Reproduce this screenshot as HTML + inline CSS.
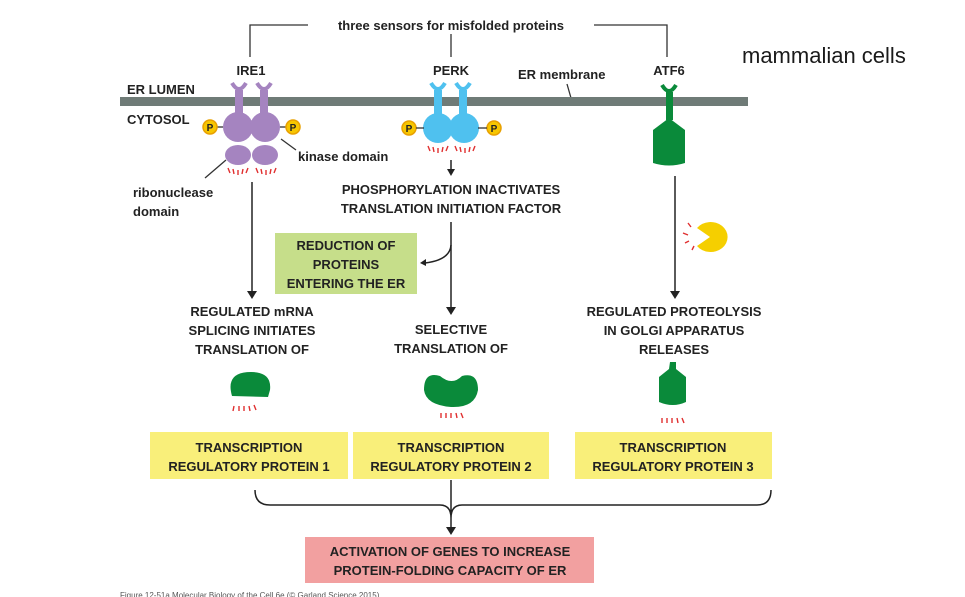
<!DOCTYPE html>
<html><head><meta charset="utf-8"><style>
html,body{margin:0;padding:0;background:#fff;}
svg{display:block;}
text{font-family:"Liberation Sans",sans-serif;font-weight:bold;fill:#222;font-size:13px;}
.c{text-anchor:middle;}
</style></head><body>
<svg width="965" height="597" viewBox="0 0 965 597">
<g stroke="#333" stroke-width="1.3" fill="none">
<path d="M250 57V25H308M594 25H667V57M451 34V57"/>
<path d="M567 84L571 98"/>
</g>
<text x="451" y="30" class="c" style="font-size:13px">three sensors for misfolded proteins</text>
<text x="742" y="63" style="font-weight:normal;font-size:22px;fill:#1a1a1a">mammalian cells</text>
<text x="251" y="75" class="c">IRE1</text>
<text x="451" y="75" class="c">PERK</text>
<text x="669" y="75" class="c">ATF6</text>
<text x="518" y="79">ER membrane</text>
<text x="127" y="94">ER LUMEN</text>
<text x="127" y="124">CYTOSOL</text>
<rect x="120" y="97" width="628" height="9" fill="#6f7b77"/>
<g fill="#a584c0">
<path d="M232 83q7 12 14 0 M257 83q7 12 14 0" stroke="#a584c0" stroke-width="4" fill="none"/>
<rect x="235" y="90" width="8" height="25"/><rect x="260" y="90" width="8" height="25"/>
<circle cx="238" cy="127" r="15"/><circle cx="265" cy="127" r="15"/>
<ellipse cx="238" cy="155" rx="13" ry="10"/><ellipse cx="265" cy="155" rx="13" ry="10"/>
</g>
<g stroke="#333" stroke-width="1.3"><line x1="216" y1="127" x2="223" y2="127"/><line x1="280" y1="127" x2="287" y2="127"/>
<line x1="281" y1="139" x2="296" y2="150"/><line x1="226" y1="160" x2="205" y2="178"/></g>
<g stroke="#e03030" stroke-width="1.4"><path d="M228 168l2 5M233 169l1 5M238 170l0 5M243 169l-1 5M248 168l-2 5M256 168l2 5M261 169l1 5M266 170l0 5M271 169l-1 5M276 168l-2 5"/></g>
<g fill="#f7c600" stroke="#e8a000" stroke-width="1.5"><circle cx="210" cy="127" r="7"/><circle cx="293" cy="127" r="7"/><circle cx="409" cy="128" r="7"/><circle cx="494" cy="128" r="7"/></g>
<text x="210" y="131" class="c" style="font-size:10px">P</text><text x="293" y="131" class="c" style="font-size:10px">P</text><text x="409" y="132" class="c" style="font-size:10px">P</text><text x="494" y="132" class="c" style="font-size:10px">P</text>
<text x="298" y="161">kinase domain</text>
<text x="133" y="197">ribonuclease</text>
<text x="133" y="216">domain</text>
<g fill="#4fc1ef">
<path d="M431 83q7 12 14 0 M456 83q7 12 14 0" stroke="#4fc1ef" stroke-width="4" fill="none"/>
<rect x="434" y="90" width="8" height="25"/><rect x="459" y="90" width="8" height="25"/>
<circle cx="438" cy="128" r="15"/><circle cx="464" cy="128" r="15"/>
</g>
<g stroke="#333" stroke-width="1.3"><line x1="416" y1="128" x2="424" y2="128"/><line x1="478" y1="128" x2="487" y2="128"/></g>
<g stroke="#e03030" stroke-width="1.4"><path d="M428 146l2 5M433 147l1 5M438 148l0 5M443 147l-1 5M448 146l-2 5M455 146l2 5M460 147l1 5M465 148l0 5M470 147l-1 5M475 146l-2 5"/></g>
<path d="M662 85q7 12 14 0" stroke="#0a8a3a" stroke-width="4" fill="none"/>
<rect x="666" y="92" width="7" height="28" fill="#0a8a3a"/>
<path d="M669 118L685 130V163Q669 168 653 163V130Z" fill="#0a8a3a"/>
<g stroke="#222" stroke-width="1.5" fill="none">
<line x1="252" y1="182" x2="252" y2="292"/>
<line x1="451" y1="160" x2="451" y2="170"/>
<line x1="451" y1="222" x2="451" y2="308"/>
<path d="M451 245Q450 260 425 263"/>
<line x1="675" y1="176" x2="675" y2="292"/>
<path d="M255 490Q255 505 270 505H440Q451 505 451 518M451 480V518M451 518Q451 505 462 505H757Q771 505 771 490"/>
<line x1="451" y1="518" x2="451" y2="528"/>
</g>
<g fill="#222">
<path d="M247 291h10l-5 8z"/><path d="M447 169h8l-4 7z"/><path d="M446 307h10l-5 8z"/>
<path d="M426 259l-6 4 6 3z"/><path d="M670 291h10l-5 8z"/><path d="M446 527h10l-5 8z"/>
</g>
<text x="451" y="194" class="c">PHOSPHORYLATION INACTIVATES</text>
<text x="451" y="213" class="c">TRANSLATION INITIATION FACTOR</text>
<rect x="275" y="233" width="142" height="61" fill="#c6de8a"/>
<text x="346" y="250" class="c">REDUCTION OF</text>
<text x="346" y="269" class="c">PROTEINS</text>
<text x="346" y="288" class="c">ENTERING THE ER</text>
<path d="M710 237L697 228A17 15 0 1 1 697 246Z" fill="#f5cf00"/>
<g stroke="#e03030" stroke-width="1.4"><path d="M688 223l3 4M683 233l5 2M685 243l4-2M692 250l2-4"/></g>
<text x="252" y="316" class="c">REGULATED mRNA</text>
<text x="252" y="335" class="c">SPLICING INITIATES</text>
<text x="252" y="354" class="c">TRANSLATION OF</text>
<text x="451" y="334" class="c">SELECTIVE</text>
<text x="451" y="353" class="c">TRANSLATION OF</text>
<text x="674" y="316" class="c">REGULATED PROTEOLYSIS</text>
<text x="674" y="335" class="c">IN GOLGI APPARATUS</text>
<text x="674" y="354" class="c">RELEASES</text>
<path d="M232 396Q225 372 251 372Q272 372 270 390L268 397Z" fill="#0a8a3a"/>
<path d="M440 376Q452 386 462 376Q478 372 478 390Q475 408 451 407Q426 405 424 390Q424 371 440 376Z" fill="#0a8a3a"/>
<path d="M670 362h6v7l10 8V402Q673 408 659 402V377l10-8z" fill="#0a8a3a"/>
<g stroke="#e03030" stroke-width="1.4"><path d="M234 406l-1 5M239 406l0 5M244 406l0 5M249 406l1 5M254 405l2 5M441 413l0 5M446 413l0 5M451 413l0 5M456 413l1 5M461 413l2 5M662 418l0 5M667 418l0 5M672 418l0 5M677 418l1 5M682 418l2 5"/></g>
<g fill="#f9ef7a"><rect x="150" y="432" width="198" height="47"/><rect x="353" y="432" width="196" height="47"/><rect x="575" y="432" width="197" height="47"/></g>
<text x="249" y="452" class="c">TRANSCRIPTION</text><text x="249" y="471" class="c">REGULATORY PROTEIN 1</text>
<text x="451" y="452" class="c">TRANSCRIPTION</text><text x="451" y="471" class="c">REGULATORY PROTEIN 2</text>
<text x="673" y="452" class="c">TRANSCRIPTION</text><text x="673" y="471" class="c">REGULATORY PROTEIN 3</text>
<rect x="305" y="537" width="289" height="46" fill="#f2a0a0"/>
<text x="450" y="556" class="c">ACTIVATION OF GENES TO INCREASE</text>
<text x="450" y="575" class="c">PROTEIN-FOLDING CAPACITY OF ER</text>
<text x="120" y="598" style="font-size:8px;font-weight:normal;fill:#555">Figure 12-51a Molecular Biology of the Cell 6e (© Garland Science 2015)</text>
</svg>
</body></html>
